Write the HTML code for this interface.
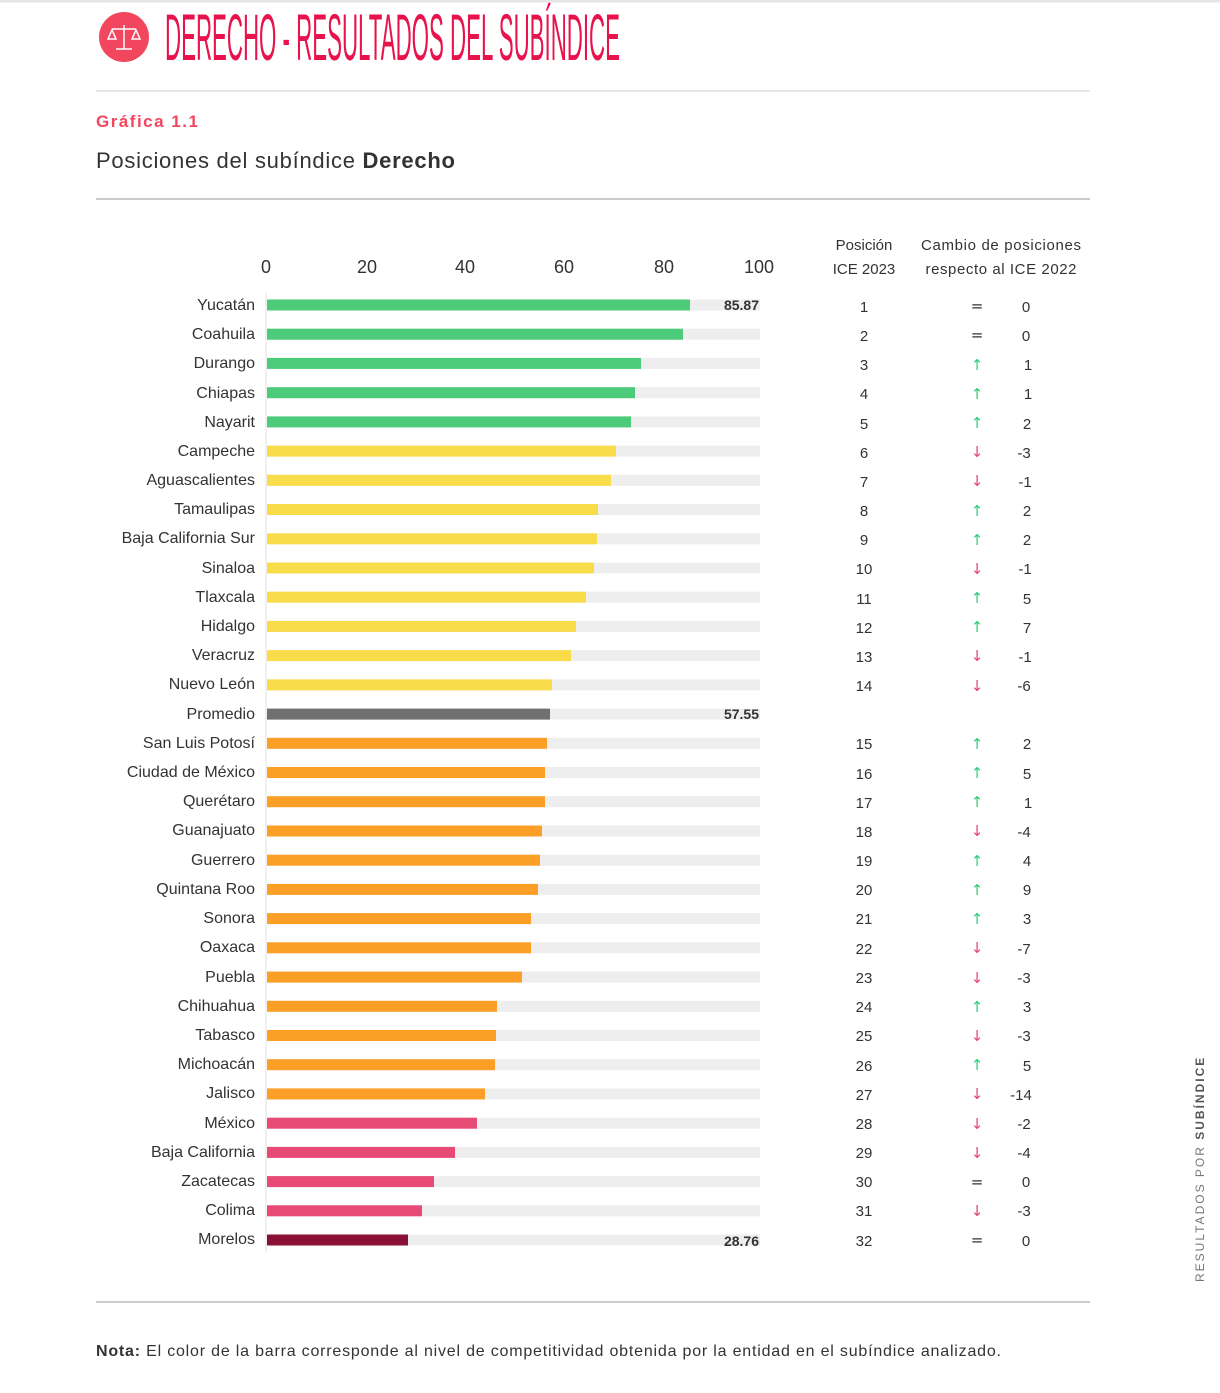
<!DOCTYPE html>
<html><head><meta charset="utf-8"><style>
body{margin:0;background:#fff;width:1220px;height:1393px;overflow:hidden}
svg{display:block}
.lab{font-family:"Liberation Sans Narrow","Liberation Sans",sans-serif;font-size:16px;fill:#333;text-anchor:end}
.num{font-family:"Liberation Sans",sans-serif;font-size:15px;fill:#333;text-anchor:middle}
.sym{font-family:"DejaVu Sans",sans-serif;font-size:15px;text-anchor:middle}
</style></head><body>
<svg width="1220" height="1393" xmlns="http://www.w3.org/2000/svg">
<line x1="0" y1="1" x2="1220" y2="1" stroke="#e6e6e6" stroke-width="3"/>
<circle cx="124" cy="37" r="25" fill="#f2455e"/>
<g stroke="#fff" stroke-width="1.5" fill="none"><line x1="124" y1="25" x2="124" y2="49"/><line x1="112" y1="29" x2="136" y2="29"/><path d="M108 39 L112 30 L116 39 Z M132 39 L136 30 L140 39 Z"/><line x1="116" y1="49" x2="132" y2="49"/></g>
<g transform="translate(165,0) scale(0.5,1)">
<text x="0" y="60" font-family="Liberation Sans Narrow,Liberation Sans,sans-serif" font-size="66" fill="#e8134d" textLength="910" lengthAdjust="spacingAndGlyphs">DERECHO  -  RESULTADOS DEL SUBÍNDICE</text></g>
<line x1="96" y1="91" x2="1090" y2="91" stroke="#e6e6e6" stroke-width="2"/>
<text x="96" y="127" font-family="Liberation Sans,sans-serif" font-size="17" font-weight="bold" fill="#f2455e" letter-spacing="1.5">Gráfica 1.1</text>
<text x="96" y="168" font-family="Liberation Sans,sans-serif" font-size="22" fill="#333" textLength="359" lengthAdjust="spacing">Posiciones del subíndice <tspan font-weight="bold">Derecho</tspan></text>
<line x1="96" y1="199" x2="1090" y2="199" stroke="#ccc" stroke-width="2"/>
<g font-family="Liberation Sans,sans-serif" font-size="18" fill="#333" text-anchor="middle">
<text x="266" y="273">0</text><text x="367" y="273">20</text><text x="465" y="273">40</text><text x="564" y="273">60</text><text x="664" y="273">80</text><text x="759" y="273">100</text></g>
<g font-family="Liberation Sans,sans-serif" font-size="15" fill="#333" text-anchor="middle">
<text x="864" y="250">Posición</text><text x="864" y="274">ICE 2023</text>
<text x="1001" y="250" textLength="160">Cambio de posiciones</text><text x="1001" y="274" textLength="151">respecto al ICE 2022</text></g>
<line x1="266" y1="293" x2="266" y2="1252" stroke="#e0e0e0" stroke-width="1"/>
<g fill="#eeeeee">
<rect x="267" y="299.5" width="493" height="11"/><rect x="267" y="328.7" width="493" height="11"/><rect x="267" y="357.9" width="493" height="11"/><rect x="267" y="387.2" width="493" height="11"/><rect x="267" y="416.4" width="493" height="11"/><rect x="267" y="445.6" width="493" height="11"/><rect x="267" y="474.8" width="493" height="11"/><rect x="267" y="504.0" width="493" height="11"/><rect x="267" y="533.3" width="493" height="11"/><rect x="267" y="562.5" width="493" height="11"/><rect x="267" y="591.7" width="493" height="11"/><rect x="267" y="620.9" width="493" height="11"/><rect x="267" y="650.1" width="493" height="11"/><rect x="267" y="679.4" width="493" height="11"/><rect x="267" y="708.6" width="493" height="11"/><rect x="267" y="737.8" width="493" height="11"/><rect x="267" y="767.0" width="493" height="11"/><rect x="267" y="796.2" width="493" height="11"/><rect x="267" y="825.5" width="493" height="11"/><rect x="267" y="854.7" width="493" height="11"/><rect x="267" y="883.9" width="493" height="11"/><rect x="267" y="913.1" width="493" height="11"/><rect x="267" y="942.3" width="493" height="11"/><rect x="267" y="971.6" width="493" height="11"/><rect x="267" y="1000.8" width="493" height="11"/><rect x="267" y="1030.0" width="493" height="11"/><rect x="267" y="1059.2" width="493" height="11"/><rect x="267" y="1088.4" width="493" height="11"/><rect x="267" y="1117.7" width="493" height="11"/><rect x="267" y="1146.9" width="493" height="11"/><rect x="267" y="1176.1" width="493" height="11"/><rect x="267" y="1205.3" width="493" height="11"/><rect x="267" y="1234.5" width="493" height="11"/></g>
<g fill="#4ccb7a"><rect x="267" y="299.5" width="423" height="11"/><rect x="267" y="328.7" width="416" height="11"/><rect x="267" y="357.9" width="374" height="11"/><rect x="267" y="387.2" width="368" height="11"/><rect x="267" y="416.4" width="364" height="11"/></g>
<g fill="#f9dc4a"><rect x="267" y="445.6" width="349" height="11"/><rect x="267" y="474.8" width="344" height="11"/><rect x="267" y="504.0" width="331" height="11"/><rect x="267" y="533.3" width="330" height="11"/><rect x="267" y="562.5" width="327" height="11"/><rect x="267" y="591.7" width="319" height="11"/><rect x="267" y="620.9" width="309" height="11"/><rect x="267" y="650.1" width="304" height="11"/><rect x="267" y="679.4" width="285" height="11"/></g>
<rect x="267" y="708.6" width="283" height="11" fill="#707070"/>
<g fill="#fb9f26"><rect x="267" y="737.8" width="280" height="11"/><rect x="267" y="767.0" width="278" height="11"/><rect x="267" y="796.2" width="278" height="11"/><rect x="267" y="825.5" width="275" height="11"/><rect x="267" y="854.7" width="273" height="11"/><rect x="267" y="883.9" width="271" height="11"/><rect x="267" y="913.1" width="264" height="11"/><rect x="267" y="942.3" width="264" height="11"/><rect x="267" y="971.6" width="255" height="11"/><rect x="267" y="1000.8" width="230" height="11"/><rect x="267" y="1030.0" width="229" height="11"/><rect x="267" y="1059.2" width="228" height="11"/><rect x="267" y="1088.4" width="218" height="11"/></g>
<g fill="#e84a76"><rect x="267" y="1117.7" width="210" height="11"/><rect x="267" y="1146.9" width="188" height="11"/><rect x="267" y="1176.1" width="167" height="11"/><rect x="267" y="1205.3" width="155" height="11"/></g>
<rect x="267" y="1234.5" width="141" height="11" fill="#8b1036"/>
<g font-family="Liberation Sans Narrow,Liberation Sans,sans-serif" font-size="14" font-weight="bold" fill="#333" text-anchor="end"><text x="759" y="310">85.87</text><text x="759" y="719">57.55</text><text x="759" y="1246">28.76</text></g>
<g class="lab">
<text x="255" y="310">Yucatán</text><text x="255" y="339">Coahuila</text><text x="255" y="368">Durango</text><text x="255" y="398">Chiapas</text><text x="255" y="427">Nayarit</text><text x="255" y="456">Campeche</text><text x="255" y="485">Aguascalientes</text><text x="255" y="514">Tamaulipas</text><text x="255" y="543">Baja California Sur</text><text x="255" y="573">Sinaloa</text><text x="255" y="602">Tlaxcala</text><text x="255" y="631">Hidalgo</text><text x="255" y="660">Veracruz</text><text x="255" y="689">Nuevo León</text><text x="255" y="719">Promedio</text><text x="255" y="748">San Luis Potosí</text><text x="255" y="777">Ciudad de México</text><text x="255" y="806">Querétaro</text><text x="255" y="835">Guanajuato</text><text x="255" y="865">Guerrero</text><text x="255" y="894">Quintana Roo</text><text x="255" y="923">Sonora</text><text x="255" y="952">Oaxaca</text><text x="255" y="982">Puebla</text><text x="255" y="1011">Chihuahua</text><text x="255" y="1040">Tabasco</text><text x="255" y="1069">Michoacán</text><text x="255" y="1098">Jalisco</text><text x="255" y="1128">México</text><text x="255" y="1157">Baja California</text><text x="255" y="1186">Zacatecas</text><text x="255" y="1215">Colima</text><text x="255" y="1244">Morelos</text></g>
<g class="num">
<text x="864" y="312">1</text><text x="864" y="341">2</text><text x="864" y="370">3</text><text x="864" y="399">4</text><text x="864" y="429">5</text><text x="864" y="458">6</text><text x="864" y="487">7</text><text x="864" y="516">8</text><text x="864" y="545">9</text><text x="864" y="574">10</text><text x="864" y="604">11</text><text x="864" y="633">12</text><text x="864" y="662">13</text><text x="864" y="691">14</text><text x="864" y="749">15</text><text x="864" y="779">16</text><text x="864" y="808">17</text><text x="864" y="837">18</text><text x="864" y="866">19</text><text x="864" y="895">20</text><text x="864" y="924">21</text><text x="864" y="954">22</text><text x="864" y="983">23</text><text x="864" y="1012">24</text><text x="864" y="1041">25</text><text x="864" y="1071">26</text><text x="864" y="1100">27</text><text x="864" y="1129">28</text><text x="864" y="1158">29</text><text x="864" y="1187">30</text><text x="864" y="1216">31</text><text x="864" y="1246">32</text></g>
<g class="num">
<text x="1026" y="312">0</text><text x="1026" y="341">0</text><text x="1028" y="370">1</text><text x="1028" y="399">1</text><text x="1027" y="429">2</text><text x="1024" y="458">-3</text><text x="1025" y="487">-1</text><text x="1027" y="516">2</text><text x="1027" y="545">2</text><text x="1025" y="574">-1</text><text x="1027" y="604">5</text><text x="1027" y="633">7</text><text x="1025" y="662">-1</text><text x="1024" y="691">-6</text><text x="1027" y="749">2</text><text x="1027" y="779">5</text><text x="1028" y="808">1</text><text x="1024" y="837">-4</text><text x="1027" y="866">4</text><text x="1027" y="895">9</text><text x="1027" y="924">3</text><text x="1024" y="954">-7</text><text x="1024" y="983">-3</text><text x="1027" y="1012">3</text><text x="1024" y="1041">-3</text><text x="1027" y="1071">5</text><text x="1021" y="1100">-14</text><text x="1024" y="1129">-2</text><text x="1024" y="1158">-4</text><text x="1026" y="1187">0</text><text x="1024" y="1216">-3</text><text x="1026" y="1246">0</text></g>
<g class="sym">
<text x="977" y="311" fill="#333">=</text><text x="977" y="340" fill="#333">=</text><text x="977" y="370" fill="#2fce7a">↑</text><text x="977" y="399" fill="#2fce7a">↑</text><text x="977" y="428" fill="#2fce7a">↑</text><text x="977" y="457" fill="#e8436e">↓</text><text x="977" y="486" fill="#e8436e">↓</text><text x="977" y="516" fill="#2fce7a">↑</text><text x="977" y="545" fill="#2fce7a">↑</text><text x="977" y="574" fill="#e8436e">↓</text><text x="977" y="603" fill="#2fce7a">↑</text><text x="977" y="632" fill="#2fce7a">↑</text><text x="977" y="661" fill="#e8436e">↓</text><text x="977" y="691" fill="#e8436e">↓</text><text x="977" y="749" fill="#2fce7a">↑</text><text x="977" y="778" fill="#2fce7a">↑</text><text x="977" y="807" fill="#2fce7a">↑</text><text x="977" y="836" fill="#e8436e">↓</text><text x="977" y="866" fill="#2fce7a">↑</text><text x="977" y="895" fill="#2fce7a">↑</text><text x="977" y="924" fill="#2fce7a">↑</text><text x="977" y="953" fill="#e8436e">↓</text><text x="977" y="983" fill="#e8436e">↓</text><text x="977" y="1012" fill="#2fce7a">↑</text><text x="977" y="1041" fill="#e8436e">↓</text><text x="977" y="1070" fill="#2fce7a">↑</text><text x="977" y="1099" fill="#e8436e">↓</text><text x="977" y="1129" fill="#e8436e">↓</text><text x="977" y="1158" fill="#e8436e">↓</text><text x="977" y="1187" fill="#333">=</text><text x="977" y="1216" fill="#e8436e">↓</text><text x="977" y="1245" fill="#333">=</text></g>
<line x1="96" y1="1302" x2="1090" y2="1302" stroke="#ccc" stroke-width="2"/>
<text x="96" y="1356" font-family="Liberation Sans,sans-serif" font-size="16" fill="#333" textLength="905" lengthAdjust="spacing"><tspan font-weight="bold">Nota:</tspan> El color de la barra corresponde al nivel de competitividad obtenida por la entidad en el subíndice analizado.</text>
<text transform="translate(1204,1282) rotate(-90)" font-family="Liberation Sans,sans-serif" font-size="12" fill="#777" letter-spacing="2">RESULTADOS POR <tspan font-weight="bold" fill="#555">SUBÍNDICE</tspan></text>
</svg>
</body></html>
